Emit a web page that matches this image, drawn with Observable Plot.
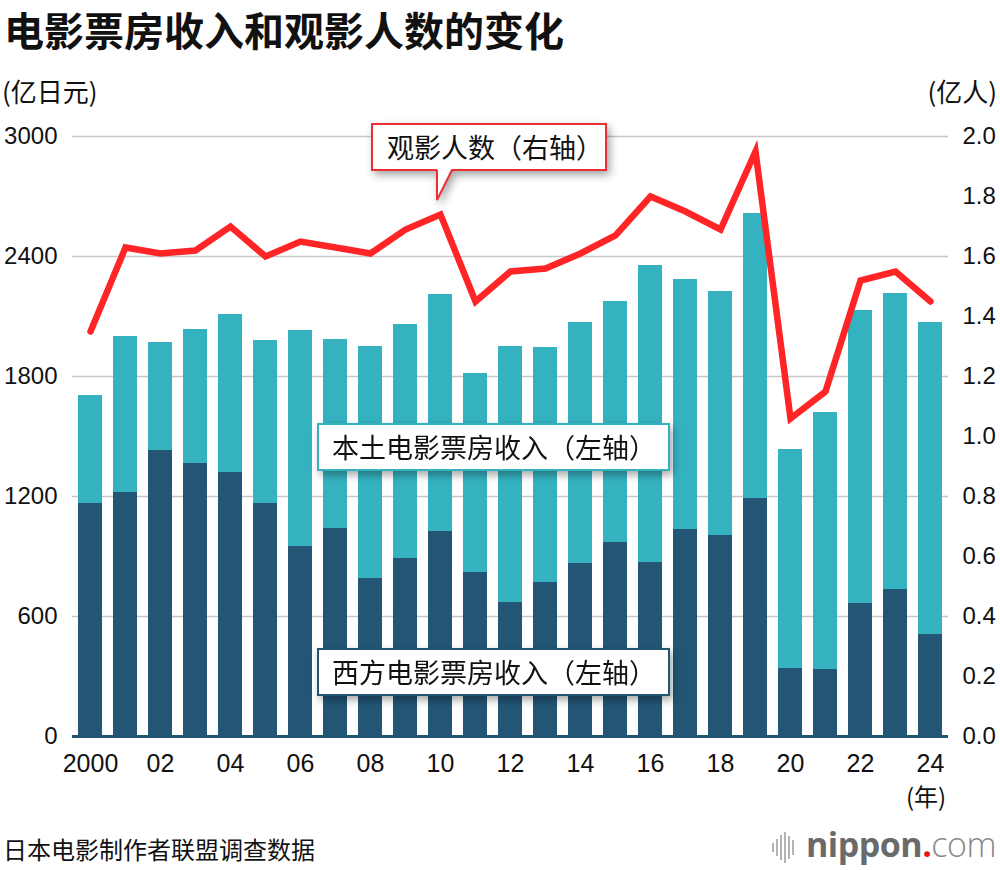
<!DOCTYPE html>
<html>
<head>
<meta charset="utf-8">
<script src="https://cdn.jsdelivr.net/npm/d3@7"></script>
<script src="https://cdn.jsdelivr.net/npm/@observablehq/plot@0.6"></script>
<style>
  html, body { margin: 0; padding: 0; background: #fff; }
  #wrap { position: relative; width: 1000px; height: 870px; overflow: hidden; font-family: "Noto Sans CJK SC", "Noto Sans", sans-serif; color: #111; }
  .abs { position: absolute; white-space: nowrap; line-height: 1.1; }
  #title { left: 4px; top: 0px; font-size: 40px; font-weight: 700; line-height: normal; }
  .unit { font-size: 26px; }
  #chart { position: absolute; left: 0; top: 100px; }
  .box { position: absolute; background: #fff; box-sizing: border-box; font-size: 27px; line-height: 44px; height: 48px; white-space: nowrap; }
  .shadow { position: absolute; left: 0; top: 0; filter: drop-shadow(3px 4px 4px rgba(0,0,0,0.35)); }
  #caption { left: 3px; top: 836px; font-size: 24px; }
  #logo { left: 806px; top: 826px; font-family: "Open Sans", "Noto Sans", sans-serif; font-size: 34px; letter-spacing: -0.5px; }
</style>
</head>
<body>
<div id="wrap">
  <div id="title" class="abs">电影票房收入和观影人数的变化</div>
  <div class="abs unit" style="left:2px; top:77px;">(亿日元)</div>
  <div class="abs unit" style="right:3px; top:77px;">(亿人)</div>
  <div id="chart"></div>
  <div class="abs" style="left:906px; top:778px; font-size:24px; line-height:normal;">(年)</div>

  <div class="shadow">
    <div class="box" style="left:371px; top:123px; width:236px; border:2px solid #ec2e36; padding-left:14px;">观影人数（右轴）</div>
    <svg style="position:absolute; left:0; top:0; overflow:visible;" width="1" height="1">
      <polygon points="437,168 452,168 437,200" fill="#fff"></polygon>
      <polyline points="437,170 437,200 452,170" fill="none" stroke="#ec2e36" stroke-width="2"></polyline>
    </svg>
  </div>
  <div class="shadow">
    <div class="box" style="left:317px; top:423px; width:353px; border:2px solid #35b2c0; padding-left:13px;">本土电影票房收入（左轴）</div>
  </div>
  <div class="shadow">
    <div class="box" style="left:317px; top:648px; width:353px; border:2px solid #235575; padding-left:13px;">西方电影票房收入（左轴）</div>
  </div>

  <div id="caption" class="abs">日本电影制作者联盟调查数据</div>
  <svg class="abs" style="left:770px; top:832px;" width="30" height="32">
    <g fill="#b4b4b4">
      <rect x="2" y="11" width="2" height="9"></rect>
      <rect x="6" y="7" width="2" height="17"></rect>
      <rect x="10" y="3" width="2" height="25"></rect>
      <rect x="14" y="0" width="2" height="31"></rect>
      <rect x="18" y="4" width="2" height="23"></rect>
      <rect x="22" y="8" width="2" height="15"></rect>
    </g>
  </svg>
  <div id="logo" class="abs"><span style="color:#6a6a6a; font-weight:700;">nippon</span><span style="color:#e8141e; font-weight:700;">.</span><span style="color:#8a8a8a; font-weight:300;">com</span></div>
</div>
<script>
const years = [2000, 2001, 2002, 2003, 2004, 2005, 2006, 2007, 2008, 2009, 2010, 2011, 2012,
               2013, 2014, 2015, 2016, 2017, 2018, 2019, 2020, 2021, 2022, 2023, 2024];
// 西方电影票房收入 (亿日元)
const foreign = [1165, 1220, 1430, 1365, 1320, 1165, 950, 1040, 790, 890, 1025, 820, 670,
                 770, 865, 970, 870, 1035, 1005, 1190, 340, 335, 665, 735, 510];
// 本土电影票房收入 (亿日元)
const domestic = [540, 780, 540, 670, 790, 815, 1080, 945, 1160, 1170, 1185, 995, 1280,
                  1175, 1205, 1205, 1485, 1250, 1220, 1425, 1095, 1285, 1465, 1480, 1560];
// 观影人数 (亿人)
const attendance = [1.35, 1.63, 1.61, 1.62, 1.70, 1.60, 1.65, 1.63, 1.61, 1.69, 1.74, 1.45, 1.55,
                    1.56, 1.61, 1.67, 1.80, 1.75, 1.69, 1.95, 1.06, 1.15, 1.52, 1.55, 1.45];
const leftTicks = [0, 600, 1200, 1800, 2400, 3000];
const rightTickValues = [0.0, 0.2, 0.4, 0.6, 0.8, 1.0, 1.2, 1.4, 1.6, 1.8, 2.0];
const xTicks = [2000, 2002, 2004, 2006, 2008, 2010, 2012, 2014, 2016, 2018, 2020, 2022, 2024];

const ratio = 3000 / 2.0; // right axis → left axis units
const dark = "#235575", light = "#35b2c0", red = "#ff2426";

const rows = years.map((year, i) => ({
  year, foreign: foreign[i], domestic: domestic[i], total: foreign[i] + domestic[i],
  people: attendance[i] * ratio
}));

const chart = Plot.plot({
  width: 1000,
  height: 720,
  marginTop: 36,
  marginBottom: 84,
  marginLeft: 72,
  marginRight: 52,
  x: { type: "band", domain: years, paddingInner: 0.314, paddingOuter: 0.171, align: 0.5, round: false },
  y: { domain: [0, 3000] },
  style: { fontFamily: "'Liberation Sans', Arial, sans-serif", color: "#111", background: "transparent", overflow: "visible" },
  marks: [
    Plot.gridY(leftTicks, { stroke: "#c8c8c8", strokeOpacity: 1, strokeWidth: 1.5 }),
    Plot.barY(rows, { x: "year", y1: 0, y2: "foreign", fill: dark }),
    Plot.barY(rows, { x: "year", y1: "foreign", y2: "total", fill: light }),
    Plot.ruleY([0], { stroke: dark, strokeWidth: 3 }),
    Plot.line(rows, { x: "year", y: "people", stroke: red, strokeWidth: 6.5, strokeLinejoin: "miter", strokeMiterlimit: 10 }),
    Plot.axisY(leftTicks, { anchor: "left", tickSize: 0, tickPadding: 15, fontSize: 24, label: null,
      tickFormat: d => String(d) }),
    Plot.axisY(rightTickValues.map(v => v * ratio), { anchor: "right", tickSize: 0, tickPadding: 14, fontSize: 24, label: null,
      tickFormat: d => (d / ratio).toFixed(1) }),
    Plot.axisX(xTicks, { anchor: "bottom", tickSize: 0, tickPadding: 18, fontSize: 25, label: null,
      tickFormat: d => d === 2000 ? "2000" : String(d % 100).padStart(2, "0") })
  ]
});
document.getElementById("chart").appendChild(chart);
</script>
</body>
</html>
